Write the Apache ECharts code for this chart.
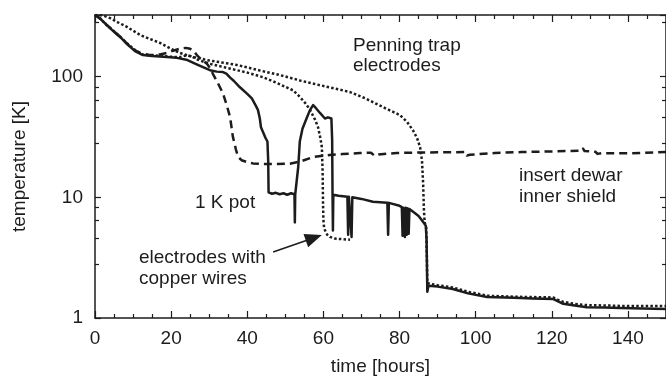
<!DOCTYPE html>
<html>
<head>
<meta charset="utf-8">
<script src="https://cdn.jsdelivr.net/npm/echarts@6/dist/echarts.min.js"></script>
<style>
html,body{margin:0;padding:0;background:#fff;}
#chart{width:666px;height:382px;}
</style>
</head>
<body>
<div id="chart"></div>
<script>
// ---- data: [time in hours, temperature in K] ----
const onekPot = [
  [0,324],[1.5,300],[3,270],[5,235],[6.6,213],[8.5,185],[10.5,163],[12.6,151],[15,148],[18,146],
  [21.5,143],[24,138],[27,125],[30.2,113],[32,110],[33.6,109],[34.5,106],[35.5,98],[36.5,92],[38,82],
  [40,72],[41.2,66],[42.3,57],[42.8,53],[43.3,45],[43.6,38],[44.1,35],[44.4,34],[44.8,31],[45.3,29],
  [45.5,20],[45.6,11],[46.5,10.7],[47.5,10.9],[48.5,10.6],[49.5,10.8],[50.5,10.5],[51.5,10.8],[52.4,10.6],
  [52.5,6.2],[52.6,10.6],[53.1,10.8],[53.4,18],[53.8,29],[54.5,37],[55.7,46],[56.5,53],[57.3,58],[58,55],
  [59.1,50],[60.4,45],[61.2,46],[61.7,46],[62.1,45],[62.3,30],[62.4,10.6],[62.5,5.3],[62.6,10.5],
  [64,10.3],[66.3,10.1],[66.5,4.9],[66.7,10.1],[67.2,10.0],[67.4,4.7],[67.6,10.0],[70,9.7],[73,9.2],
  [76.8,9.0],[77,4.9],[77.2,9.0],[80,8.5],[80.6,8.3],[80.8,4.8],[81.0,8.2],[81.4,4.7],[81.6,8.2],
  [81.9,4.9],[82.1,8.1],[82.4,5.0],[82.6,8.0],[84,7.4],[85,7.0],[86.3,6.2],[86.9,5.8],[87.1,4.5],
  [87.3,1.65],[87.6,1.85],[88,1.88],[90,1.82],[94,1.74],[98,1.6],[103,1.49],[110,1.47],[115,1.45],
  [120.3,1.44],[121.5,1.38],[123,1.31],[126,1.27],[129.2,1.23],[134,1.22],[137.9,1.21],[144,1.2],[150,1.19]
];
const innerShield = [
  [0,324],[1.5,300],[3,270],[5,237],[6.6,214],[8.5,186],[10,168],[11.8,157],[14,152],[16.3,151],
  [18.5,156],[20.5,164],[22.5,171],[23.8,173],[25,170],[26,162],[26.8,150],[28,138],[29.4,128],[30.2,118],
  [31,105],[32.3,88],[33.6,73],[34.6,58],[35.5,46],[36.2,32],[37,25],[37.6,21.6],[38.5,20.3],[39.9,19.6],
  [41.5,19.1],[43.3,18.9],[47,18.9],[51.2,19.0],[54,19.8],[57.3,21.6],[61.7,22.4],[65,22.8],[69.6,23.3],
  [72.5,23.4],[73.5,22.0],[74.5,22.6],[77,23.0],[79.3,23.3],[85,23.5],[90,23.6],[97.4,23.7],[97.7,22.2],
  [98.5,22.5],[105,23.3],[112,23.7],[120,24.0],[127.8,24.3],[128.2,25.3],[128.6,24.2],[131.5,23.8],
  [132,22.9],[133,23.2],[141,23.2],[150,23.7]
];
const penningElectrodes = [
  [0,324],[2,322],[4,305],[6,282],[8.4,258],[12,220],[17.1,190],[20,170],[22.3,157],[26,145],[30,136],
  [37.3,125],[43,113],[48.6,103],[53.8,93],[58.3,86],[62,81],[67,74.5],[71,66],[75.6,56],[80.1,48],
  [82,42],[83.5,36],[84.6,31],[85.4,26],[85.9,20],[86.2,13],[86.4,8],[86.6,6.2],[87.0,5.6],[87.2,3],
  [87.3,1.95],[88,1.92],[90,1.87],[94,1.79],[98,1.65],[103,1.53],[110,1.5],[115,1.49],[120.3,1.48],
  [121.5,1.42],[123,1.36],[126,1.31],[129,1.28],[134,1.27],[138,1.26],[144,1.26],[150,1.26]
];
const copperWireElectrodes = [
  [0,324],[1.5,300],[3,268],[5,238],[6.6,214],[8.5,188],[10.5,166],[12.6,152],[15,150],[18,148],[20,146],
  [22.3,145],[24,150],[25.5,147],[27,138],[30,128],[34.7,118],[40,108],[44.1,99],[48,88],[52,77],[53.8,68],
  [55.3,60],[56.5,53],[57.8,44],[58.6,38],[59.2,31],[59.6,26],[59.8,16],[59.9,9],[60.0,6.5],[60.2,5.5],
  [61,4.9],[61.7,4.7],[63,4.55],[65,4.5],[67,4.45]
];
const seriesNames = ['1 K pot','insert dewar inner shield','Penning trap electrodes','electrodes with copper wires'];
// arrow annotation (data coords): tail -> tip
const arrowTail = [46.8, 3.52];
const arrowTip = [59.6, 4.87];

const FONT = '"Liberation Sans", Arial, Helvetica, sans-serif';
const INK = '#1c1c1c';
const chart = echarts.init(document.getElementById('chart'), null, {renderer:'canvas'});

function xAx(pos, labels){
  return {
    type:'value', position:pos, min:0, max:150, interval:20,
    axisLine:{show:true, onZero:false, lineStyle:{color:INK, width:1.5}},
    axisTick:{show:true, inside:true, length:7, lineStyle:{color:INK, width:1.2}},
    minorTick:{show:true, splitNumber:4, length:4, lineStyle:{color:INK, width:1.2}},
    splitLine:{show:false}, minorSplitLine:{show:false},
    axisLabel:{show:labels, showMaxLabel:false, fontSize:19, fontFamily:FONT, color:INK, margin:11},
    name: labels ? 'time [hours]' : '', nameLocation:'middle', nameGap:39,
    nameTextStyle:{fontSize:19, fontFamily:FONT, color:INK}
  };
}
function yAx(pos, labels){
  return {
    type:'log', logBase:10, position:pos, min:1, max:324,
    axisLine:{show:true, onZero:false, lineStyle:{color:INK, width:1.5}},
    axisTick:{show:true, inside:true, length:6, lineStyle:{color:INK, width:1.2}},
    minorTick:{show:true, length:4, lineStyle:{color:INK, width:1.2}},
    splitLine:{show:false}, minorSplitLine:{show:false},
    axisLabel:{show:labels, showMaxLabel:false, fontSize:19, fontFamily:FONT, color:INK, margin:12},
    name: labels ? 'temperature [K]' : '', nameLocation:'middle', nameGap:66, nameRotate:90,
    nameTextStyle:{fontSize:19, fontFamily:FONT, color:INK}
  };
}
function line(name, data, type, z){
  return {name, type:'line', data, showSymbol:false, symbol:'none', z, clip:true,
    lineStyle:{color:INK, width:2.5, type, cap:'butt', join:'round'}, emphasis:{disabled:true}};
}

chart.setOption({
  animation:false,
  backgroundColor:'#fff',
  grid:{left:95, right:0, top:15, bottom:64, containLabel:false},
  xAxis:[xAx('bottom', true), xAx('top', false)],
  yAxis:[yAx('left', true), yAx('right', false)],
  series:[
    line(seriesNames[1], innerShield, [8,5], 2),
    line(seriesNames[2], penningElectrodes, [2.5,2.2], 3),
    line(seriesNames[3], copperWireElectrodes, [2.5,2.2], 3),
    line(seriesNames[0], onekPot, 'solid', 4)
  ]
});

const txt = (x, y, s, lh) => ({type:'text', x, y, silent:true,
  style:{text:s, fontSize:19, fontFamily:FONT, fill:INK, lineHeight:lh, align:'left', verticalAlign:'top'}});

const p0 = chart.convertToPixel({xAxisIndex:0, yAxisIndex:0}, arrowTail);
const p1 = chart.convertToPixel({xAxisIndex:0, yAxisIndex:0}, arrowTip);
const dx = p1[0]-p0[0], dy = p1[1]-p0[1], L = Math.hypot(dx,dy);
const ux = dx/L, uy = dy/L, hl = 17, hw = 7;
const bx = p1[0]-ux*hl, by = p1[1]-uy*hl;

chart.setOption({
  graphic:[
    txt(353, 36, 'Penning trap\nelectrodes', 20),
    txt(519, 165, 'insert dewar\ninner shield', 21),
    txt(195, 193, '1 K pot', 20),
    txt(139, 247, 'electrodes with\ncopper wires', 21),
    {type:'line', silent:true, shape:{x1:p0[0], y1:p0[1], x2:bx+ux*2, y2:by+uy*2}, style:{stroke:INK, lineWidth:1.5}},
    {type:'polygon', silent:true, shape:{points:[[p1[0],p1[1]],[bx - uy*hw, by + ux*hw],[bx + uy*hw, by - ux*hw]]}, style:{fill:INK}}
  ]
});
</script>
</body>
</html>
